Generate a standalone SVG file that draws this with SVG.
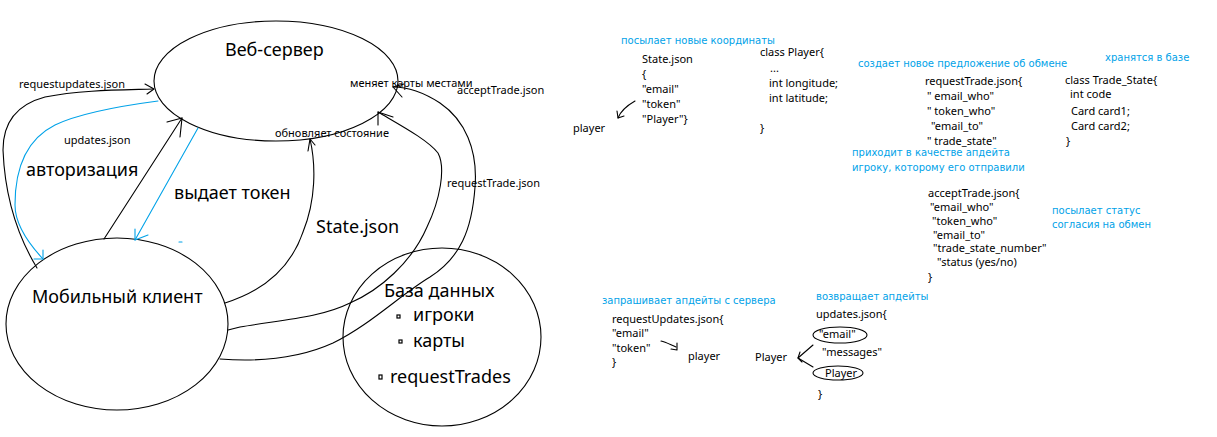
<svg xmlns="http://www.w3.org/2000/svg" width="1217" height="437" viewBox="0 0 1217 437">
<style>
.shape{fill:none;stroke:#000;stroke-width:1.1}
.ln{fill:none;stroke:#000;stroke-width:1.1;stroke-linejoin:round;stroke-linecap:round}
.bl{fill:none;stroke:#00a2e8;stroke-width:1.1;stroke-linejoin:round;stroke-linecap:round}
.big{font-family:"Noto Sans","Open Sans",sans-serif;font-size:18px;fill:#000}
.sm{font-family:"Noto Sans","Open Sans",sans-serif;font-size:11px;fill:#000}
.code{font-family:"Noto Sans","Open Sans",sans-serif;font-size:11px;fill:#000}
.note{font-family:"DejaVu Sans","Noto Sans",sans-serif;font-size:10px;fill:#00a2e8}
.bul{fill:none;stroke:#000;stroke-width:1.2}
</style>
<rect width="1217" height="437" fill="#fff"/>

<g id="server">
<ellipse class="shape" cx="276" cy="81" rx="122" ry="60"/>
<text class="big" x="225" y="56" font-size="19">Веб-сервер</text>
</g>

<g id="mobile">
<ellipse class="shape" cx="117" cy="324" rx="111" ry="86"/>
<text class="big" x="32" y="303" font-size="19">Мобильный клиент</text>
</g>

<g id="database">
<ellipse class="shape" cx="442" cy="337" rx="99" ry="89"/>
<text class="big" x="384" y="297">База данных</text>
<rect class="bul" x="397" y="315" width="3" height="3"/>
<text class="big" x="413" y="321">игроки</text>
<rect class="bul" x="399" y="340" width="3" height="3"/>
<text class="big" x="413" y="347">карты</text>
<rect class="bul" x="379" y="375" width="3" height="4"/>
<text class="big" x="390" y="383">requestTrades</text>
</g>

<g id="connectors">
<!-- requestupdates -->
<path class="ln" d="M37,268 C20,240 5,200 3,150 C3,125 15,105 45,97 C80,90 120,90 153,89"/>
<polyline class="ln" points="145,84 154,89 147,94"/>
<!-- updates.json (blue) -->
<path class="bl" d="M158,101 C120,106 80,113 55,125 C25,140 15,170 15,205 C15,225 30,245 43,259"/>
<polyline class="bl" points="43,250 43,259 34,259"/>
<!-- авторизация -->
<line class="ln" x1="104" y1="239" x2="182" y2="118"/>
<polyline class="ln" points="167,122 182,118 180,137"/>
<!-- выдает токен (blue) -->
<line class="bl" x1="198" y1="128" x2="135" y2="240"/>
<polyline class="bl" points="148,235 135,240 135,229"/>
<line class="bl" x1="179" y1="242" x2="182" y2="242"/>
<!-- State.json -->
<path class="ln" d="M225,303 C260,292 290,270 303,232 C316,200 316,165 310,139"/>
<polyline class="ln" points="308,151 310,139 315,145"/>
<!-- requestTrade.json -->
<path class="ln" d="M228,330 L240,327 C280,320 320,318 350,303 C380,290 412,262 427,227 C440,200 446,168 438,153 C428,140 400,125 378,112"/>
<polyline class="ln" points="393,117 378,112 378,125"/>
<!-- acceptTrade.json -->
<path class="ln" d="M220,359 C260,362 300,358 333,343 C370,325 400,295 430,277 C460,258 472,230 475,187 C478,150 465,120 440,103 C420,90 405,87 393,87"/>
<polyline class="ln" points="404,84 393,87 402,97" stroke-width="1.6"/>
</g>

<g id="edge-labels">
<text class="sm" x="19" y="88">requestupdates.json</text>
<text class="sm" x="64" y="144">updates.json</text>
<text class="big" x="26" y="176">авторизация</text>
<text class="big" x="174" y="199">выдает токен</text>
<text class="sm" x="275" y="137">обновляет состояние</text>
<text class="sm" x="350" y="87" font-size="10.5">меняет карты местами</text>
<text class="sm" x="457" y="94">acceptTrade.json</text>
<text class="sm" x="447" y="187">requestTrade.json</text>
<text class="big" x="316" y="233">State.json</text>
</g>

<g id="state-json">
<text class="note" x="621" y="44">посылает новые координаты</text>
<text class="code" x="642" y="63">State.json</text>
<text class="code" x="642" y="78">{</text>
<text class="code" x="642" y="93">"email"</text>
<text class="code" x="642" y="108">"token"</text>
<text class="code" x="642" y="123">"Player"}</text>
<text class="code" x="573" y="132">player</text>
<path class="ln" d="M635,101 C628,105 621,110 618,118"/>
<polyline class="ln" points="617,111 618,118 624,116"/>
</g>

<g id="class-player">
<text class="code" x="760" y="56">class Player{</text>
<text class="code" x="770" y="72">...</text>
<text class="code" x="769" y="87">int longitude;</text>
<text class="code" x="769" y="102">int latitude;</text>
<text class="code" x="760" y="132">}</text>
</g>

<g id="request-trade">
<text class="note" x="858" y="67">создает новое предложение об обмене</text>
<text class="code" x="925" y="85">requestTrade.json{</text>
<text class="code" x="927" y="100">" email_who"</text>
<text class="code" x="927" y="115">" token_who"</text>
<text class="code" x="931" y="130">"email_to"</text>
<text class="code" x="927" y="145">" trade_state"</text>
<text class="note" x="852" y="156">приходит в качестве апдейта</text>
<text class="note" x="852" y="171">игроку, которому его отправили</text>
</g>

<g id="trade-state">
<text class="note" x="1105" y="61">хранятся в базе</text>
<text class="code" x="1065" y="84">class Trade_State{</text>
<text class="code" x="1070" y="98">int code</text>
<text class="code" x="1071" y="115">Card card1;</text>
<text class="code" x="1071" y="130">Card card2;</text>
<text class="code" x="1066" y="145">}</text>
</g>

<g id="accept-trade">
<text class="code" x="928" y="197">acceptTrade.json{</text>
<text class="code" x="930" y="211">"email_who"</text>
<text class="code" x="932" y="225">"token_who"</text>
<text class="code" x="933" y="239">"email_to"</text>
<text class="code" x="933" y="252">"trade_state_number"</text>
<text class="code" x="937" y="266" font-size="10.5">"status (yes/no)</text>
<text class="code" x="928" y="281">}</text>
<text class="note" x="1052" y="214">посылает статус</text>
<text class="note" x="1052" y="228">согласия на обмен</text>
</g>

<g id="request-updates">
<text class="note" x="602" y="304">запрашивает апдейты с сервера</text>
<text class="code" x="612" y="323">requestUpdates.json{</text>
<text class="code" x="612" y="337">"email"</text>
<text class="code" x="612" y="352">"token"</text>
<text class="code" x="612" y="366">}</text>
<path class="ln" d="M661,341 C666,342 671,345 676,347"/>
<polyline class="ln" points="677,343 677,350 671,349"/>
<text class="code" x="688" y="360">player</text>
</g>

<g id="updates">
<text class="note" x="816" y="300">возвращает апдейты</text>
<text class="code" x="816" y="318">updates.json{</text>
<ellipse class="shape" cx="840" cy="335" rx="27" ry="8"/>
<text class="code" x="819" y="338">"email"</text>
<text class="code" x="822" y="356">"messages"</text>
<ellipse class="shape" cx="838" cy="373" rx="25" ry="7"/>
<text class="code" x="825" y="377">Player</text>
<text class="code" x="818" y="398">}</text>
<text class="code" x="755" y="361">Player</text>
<polyline class="ln" points="813,345 798,358 813,367"/>
<polyline class="ln" points="800,352 798,358 802,362" stroke-width="1.6"/>
</g>
</svg>
